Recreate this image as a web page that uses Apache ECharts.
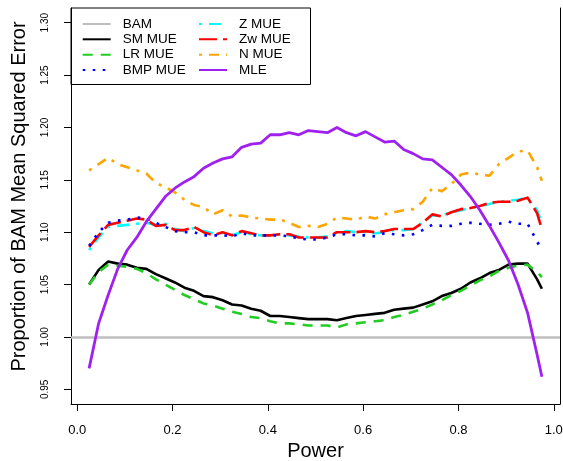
<!DOCTYPE html>
<html>
<head>
<meta charset="utf-8">
<script src="https://cdn.jsdelivr.net/npm/echarts@6/dist/echarts.min.js"></script>
<style>
html,body{margin:0;padding:0;background:#fff;}
#chart{width:563px;height:461px;}
</style>
</head>
<body>
<div id="chart"></div>
<script>
const power = [0.025,0.045,0.065,0.085,0.105,0.125,0.145,0.165,0.185,0.205,
  0.225,0.245,0.265,0.285,0.305,0.325,0.345,0.365,0.385,0.405,
  0.425,0.445,0.465,0.485,0.505,0.525,0.545,0.565,0.585,0.605,
  0.625,0.645,0.665,0.685,0.705,0.725,0.745,0.765,0.785,0.805,
  0.825,0.845,0.865,0.885,0.905,0.925,0.945,0.965,0.975];

const bam = 1.0;

const smMUE = [1.050,1.064,1.072,1.070,1.069,1.066,1.065,1.060,1.056,1.052,
  1.047,1.044,1.039,1.038,1.035,1.031,1.030,1.027,1.025,1.020,
  1.020,1.019,1.018,1.017,1.017,1.017,1.016,1.018,1.020,1.021,
  1.022,1.023,1.026,1.027,1.028,1.031,1.034,1.039,1.042,1.046,
  1.052,1.056,1.061,1.064,1.069,1.070,1.070,1.055,1.046];

const lrMUE = [1.050,1.062,1.069,1.068,1.067,1.065,1.061,1.055,1.050,1.045,
  1.040,1.036,1.032,1.030,1.027,1.024,1.022,1.019,1.018,1.015,
  1.013,1.013,1.012,1.011,1.011,1.011,1.009,1.012,1.013,1.014,
  1.015,1.016,1.019,1.021,1.024,1.027,1.031,1.035,1.040,1.044,
  1.049,1.054,1.058,1.063,1.066,1.068,1.069,1.062,1.057];

const bmpMUE = [1.087,1.100,1.109,1.111,1.112,1.114,1.113,1.109,1.105,1.101,
  1.100,1.100,1.097,1.097,1.097,1.096,1.099,1.097,1.097,1.097,
  1.097,1.096,1.094,1.093,1.093,1.095,1.098,1.098,1.097,1.097,
  1.096,1.099,1.098,1.097,1.098,1.102,1.107,1.106,1.106,1.108,
  1.109,1.108,1.107,1.108,1.110,1.108,1.108,1.091,1.083];

const zMUE = [1.083,1.095,1.105,1.106,1.107,1.108,1.109,1.107,1.108,1.103,
  1.101,1.104,1.101,1.099,1.099,1.097,1.100,1.098,1.097,1.097,
  1.098,1.097,1.096,1.095,1.095,1.096,1.100,1.101,1.100,1.100,
  1.099,1.100,1.102,1.102,1.103,1.109,1.116,1.116,1.119,1.121,
  1.123,1.125,1.127,1.129,1.130,1.131,1.133,1.121,1.109];

const zwMUE = [1.086,1.097,1.107,1.109,1.111,1.113,1.112,1.106,1.107,1.102,
  1.102,1.105,1.100,1.097,1.100,1.097,1.101,1.099,1.097,1.097,
  1.098,1.098,1.095,1.095,1.095,1.095,1.100,1.100,1.100,1.101,
  1.100,1.101,1.103,1.103,1.103,1.109,1.117,1.115,1.119,1.122,
  1.123,1.125,1.128,1.129,1.129,1.130,1.133,1.118,1.103];

const nMUE = [1.159,1.165,1.171,1.165,1.162,1.159,1.156,1.147,1.143,1.138,
  1.131,1.126,1.124,1.117,1.121,1.115,1.116,1.114,1.113,1.112,
  1.112,1.109,1.105,1.106,1.105,1.108,1.114,1.113,1.112,1.115,
  1.113,1.117,1.119,1.121,1.122,1.129,1.142,1.139,1.146,1.155,
  1.157,1.155,1.154,1.165,1.171,1.177,1.178,1.162,1.149];

const mle = [0.970,1.013,1.040,1.065,1.083,1.095,1.110,1.122,1.134,1.142,
  1.148,1.153,1.161,1.166,1.170,1.172,1.181,1.184,1.185,1.193,
  1.193,1.195,1.193,1.197,1.196,1.195,1.200,1.195,1.192,1.196,
  1.191,1.186,1.187,1.179,1.175,1.170,1.169,1.162,1.155,1.145,
  1.134,1.121,1.106,1.090,1.073,1.050,1.023,0.983,0.962];

const xTicks = [0.0,0.2,0.4,0.6,0.8,1.0];
const yTicks = [0.95,1.00,1.05,1.10,1.15,1.20,1.25,1.30];

const legendCol1 = ['BAM','SM MUE','LR MUE','BMP MUE'];
const legendCol2 = ['Z MUE','Zw MUE','N MUE','MLE'];

const FONT = 'Liberation Sans, Arial, sans-serif';
const pair = v => power.map((p,i)=>[p,v[i]]);

function lineSeries(name, vals, color, type, width, z){
  return {
    name, type:'line', data: pair(vals), symbol:'none', showSymbol:false,
    lineStyle:{color, width, type, cap:'butt', join:'round'},
    itemStyle:{color}, z, silent:true, animation:false
  };
}

const rowCenters = [24, 39.3, 54.7, 70];
function legendItem(name, left, row){
  return {
    data:[name], orient:'vertical', left, top: rowCenters[row]-7, padding:0,
    itemWidth:28, itemHeight:14, selectedMode:false,
    itemStyle:{opacity:0},
    textStyle:{fontSize:13.5, color:'#000', fontFamily:FONT, padding:[0,0,0,7]}
  };
}
const legends = [];
legendCol1.forEach((n,i)=>legends.push(legendItem(n, 81.7, i)));
legendCol2.forEach((n,i)=>legends.push(legendItem(n, 198, i)));

const axisLineStyle = {show:true, onZero:false, lineStyle:{color:'#000', width:1}};

const chart = echarts.init(document.getElementById('chart'), null, {renderer:'canvas'});
chart.setOption({
  animation:false,
  backgroundColor:'#fff',
  grid:{left:71, right:3, top:8, bottom:57, show:false, containLabel:false, outerBoundsMode:'none'},
  xAxis:{
    type:'value', min:-0.013, max:1.013,
    name:'Power', nameLocation:'middle', nameGap:36,
    nameTextStyle:{fontSize:20, color:'#000', fontFamily:FONT},
    axisLine:axisLineStyle,
    axisTick:{show:true, length:7, customValues:xTicks, lineStyle:{color:'#000'}},
    axisLabel:{customValues:xTicks, fontSize:13, color:'#000', fontFamily:FONT, margin:20,
      formatter: v => v.toFixed(1)},
    splitLine:{show:false}
  },
  yAxis:[{
    type:'value', min:0.936, max:1.314,
    name:'Proportion of BAM Mean Squared Error', nameLocation:'middle', nameGap:42,
    nameTextStyle:{fontSize:20, color:'#000', fontFamily:FONT, padding:[0,0,0,19]},
    axisLine:axisLineStyle,
    axisTick:{show:true, length:7, customValues:yTicks, lineStyle:{color:'#000'}},
    axisLabel:{customValues:yTicks, fontSize:10, color:'#000', fontFamily:FONT, margin:21, rotate:90,
      formatter: v => v.toFixed(2)},
    splitLine:{show:false}
  },{
    type:'value', min:0.936, max:1.314, position:'right',
    axisLine:axisLineStyle, axisTick:{show:false}, axisLabel:{show:false}, splitLine:{show:false}
  }],
  legend: legends,
  graphic:[
    {type:'rect', shape:{x:71, y:8, width:239.5, height:76.5}, style:{fill:'none', stroke:'#000', lineWidth:1}, silent:true, z:100}
  ],
  series:[
    {name:'BAM', type:'line', data:[], symbol:'none', lineStyle:{color:'#bebebe', width:2.6}, itemStyle:{color:'#bebebe'},
     markLine:{silent:true, symbol:'none', label:{show:false}, lineStyle:{color:'#bebebe', width:2.6, type:'solid'},
       data:[{yAxis:bam}], animation:false}, z:1},
    lineSeries('SM MUE', smMUE, '#000000', 'solid', 2.6, 2),
    lineSeries('LR MUE', lrMUE, '#22cc22', [10,8], 2.6, 3),
    lineSeries('Z MUE', zMUE, '#00ffff', [3,7,12,7], 2.6, 4),
    lineSeries('Zw MUE', zwMUE, '#ff0000', [18,6], 2.6, 5),
    lineSeries('BMP MUE', bmpMUE, '#0000ff', [2.6,7.4], 2.6, 6),
    lineSeries('N MUE', nMUE, '#ffa500', [3,7,10,7], 2.6, 7),
    lineSeries('MLE', mle, '#a020f0', 'solid', 2.8, 8)
  ]
});
</script>
</body>
</html>
